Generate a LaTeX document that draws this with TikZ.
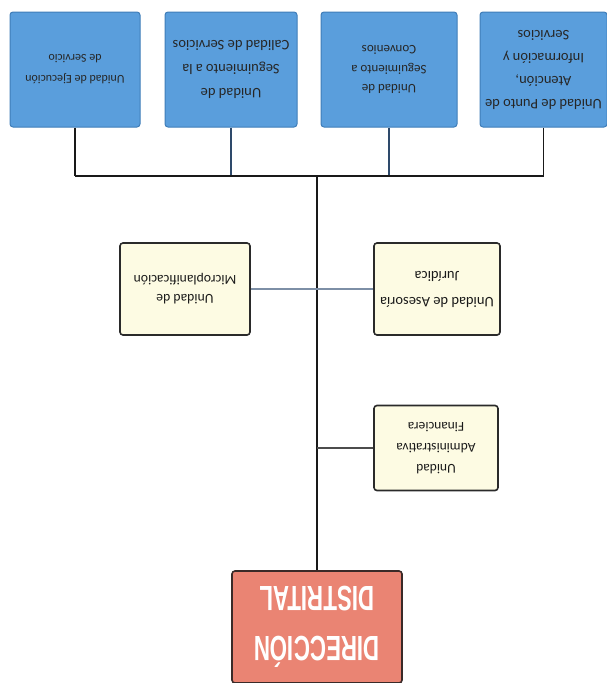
\documentclass[tikz,border=0pt]{standalone}
\usepackage{fontspec}
\setmainfont{Carlito}
\newfontfamily\headfont[FakeStretch=0.64]{Liberation Sans}
\definecolor{bluefill}{HTML}{5A9EDC}
\definecolor{blueedge}{HTML}{3F7DB8}
\definecolor{yelfill}{HTML}{FDFBE3}
\definecolor{yeledge}{HTML}{2A2A2A}
\definecolor{redfill}{HTML}{EA8473}
\definecolor{rededge}{HTML}{3A2A28}
\definecolor{linkgray}{HTML}{7D8FA6}
\definecolor{linknavy}{HTML}{2E4A6B}
\begin{document}
\begin{tikzpicture}[x=1pt,y=-1pt,
  bluebox/.style={rectangle,rounded corners=3pt,fill=bluefill,draw=blueedge,line width=1pt,
    rotate=180,align=center,text=black!85,inner sep=1pt},
  yelbox/.style={rectangle,rounded corners=3pt,fill=yelfill,draw=yeledge,line width=1.6pt,
    rotate=180,align=center,text=black!90,inner sep=1pt},
  redbox/.style={rectangle,rounded corners=3pt,fill=redfill,draw=rededge,line width=1.6pt,
    rotate=180,align=center,text=white,font=\headfont\bfseries\fontsize{35}{50}\selectfont},
  link/.style={line width=1.8pt,draw=black!90},
]
\useasboundingbox (0,0) rectangle (607,683);
% connectors
\coordinate (j1) at (75,176);
\coordinate (j2) at (231,176);
\coordinate (j3) at (389,176);
\coordinate (j4) at (543.5,176);
\coordinate (t) at (317,176);
\coordinate (t3) at (317,448);
% nodes
\node[bluebox,minimum width=130pt,minimum height=115pt,font=\fontsize{12}{21}\selectfont] (b1) at (75,69.5) {Unidad de Ejecución\\de Servicio};
\node[bluebox,minimum width=132pt,minimum height=115pt,font=\fontsize{14.5}{24}\selectfont] (b2) at (231,69.5) {Unidad de\\Seguimiento a la\\Calidad de Servicios};
\node[bluebox,minimum width=136pt,minimum height=115pt,font=\fontsize{13}{19.5}\selectfont] (b3) at (389,69.5) {Unidad de\\Seguimiento a\\Convenios};
\node[bluebox,minimum width=127pt,minimum height=115pt,font=\fontsize{14.5}{23}\selectfont] (b4) at (543.5,69.5) {Unidad de Punto de\\Atención,\\Información y\\Servicios};
\node[yelbox,minimum width=130pt,minimum height=92pt,font=\fontsize{13.7}{19}\selectfont] (yl) at (185,289) {Unidad de\\Microplanificación};
\node[yelbox,minimum width=126pt,minimum height=92pt,font=\fontsize{14.5}{26}\selectfont] (yr) at (437,289) {Unidad de Asesoría\\Jurídica};
\node[yelbox,minimum width=124pt,minimum height=85pt,font=\fontsize{13.5}{21}\selectfont] (y3) at (436,448) {Unidad\\Administrativa\\Financiera};
\node[redbox,minimum width=170pt,minimum height=112pt] (red) at (317,627) {DIRECCIÓN\\DISTRITAL};
% lines
\draw[link] (b1) -- (j1);
\draw[link,draw=linknavy] (b2) -- (j2);
\draw[link,draw=linknavy] (b3) -- (j3);
\draw[link] (b4) -- (j4);
\draw[link] (j1) -- (j4);
\draw[link] (t) -- (red);
\draw[line width=2pt,draw=linkgray] (yl) -- (yr);
\draw[line width=1.8pt,draw=black!70] (t3) -- (y3);
\end{tikzpicture}
\end{document}
